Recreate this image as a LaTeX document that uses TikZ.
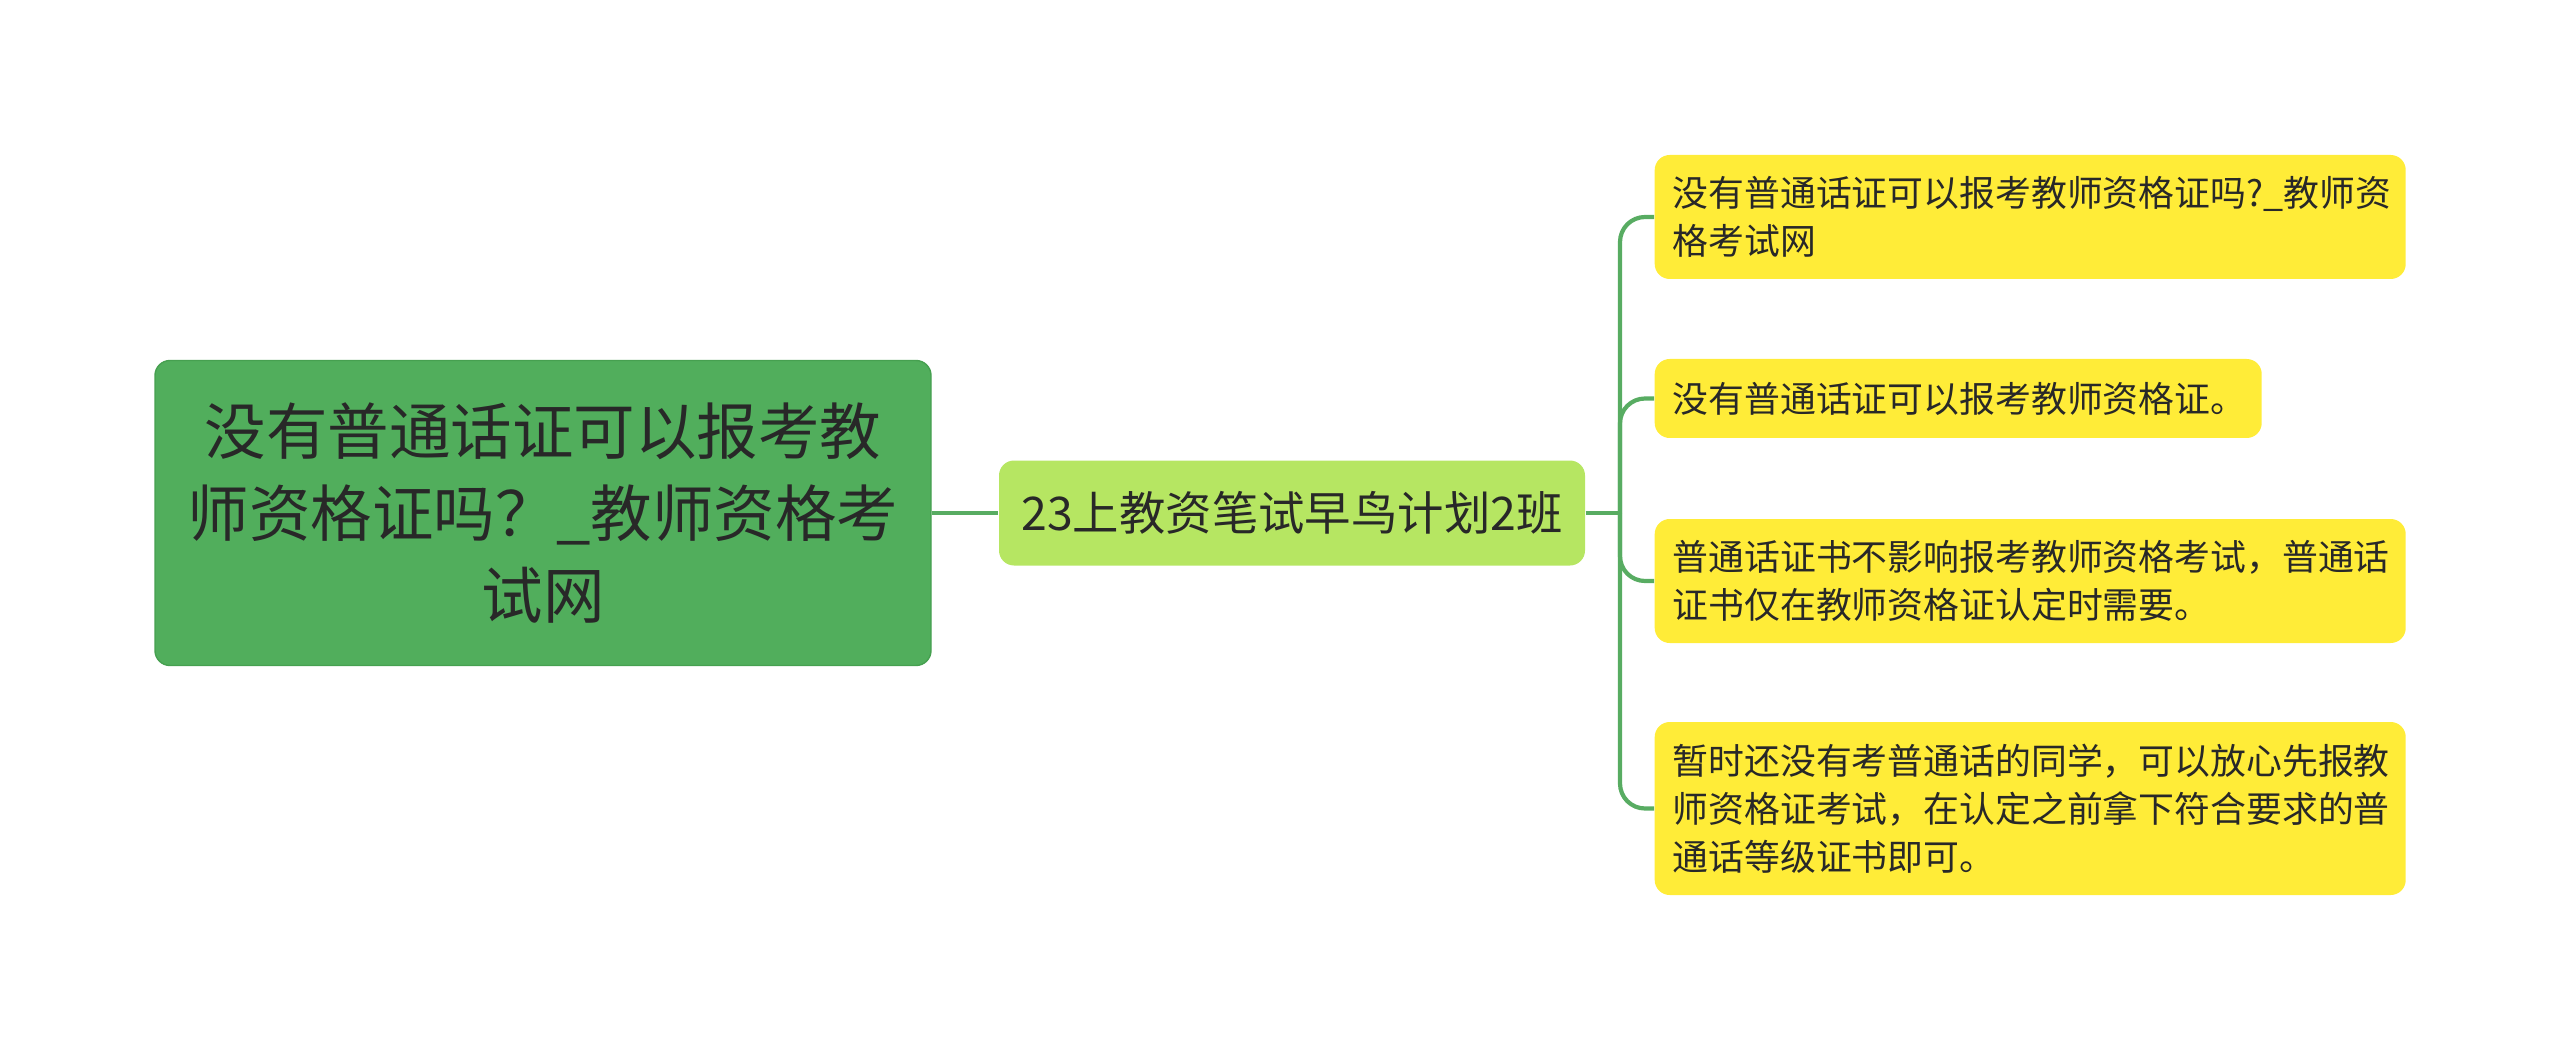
\documentclass[tikz,border=0pt]{standalone}
\usepackage{fontspec}
\usepackage{xcolor}
\usepackage{tikz}
\newfontfamily\cjk{Noto Sans CJK SC}
\definecolor{mauxanh}{RGB}{81,174,92}
\definecolor{vienxanh}{RGB}{70,160,80}
\definecolor{mauchanh}{RGB}{182,230,98}
\definecolor{mauvang}{RGB}{255,236,56}
\definecolor{mauday}{RGB}{88,172,98}
\definecolor{chu}{RGB}{40,40,40}

\begin{document}
\begin{tikzpicture}[
	goc/.style={draw=vienxanh, fill=mauxanh, rounded corners=0.15cm, minimum width=7.76cm, minimum height=3.05cm, align=center, text=chu, font=\cjk\fontsize{17.5}{23.3}\selectfont},
	nhanh/.style={fill=mauchanh, rounded corners=0.15cm, minimum width=5.86cm, minimum height=1.05cm, text=chu, font=\cjk\fontsize{13.2}{16}\selectfont},
	la/.style={fill=mauvang, rounded corners=0.15cm, anchor=west, inner xsep=0.18cm, align=left, text=chu, font=\cjk\fontsize{10.2}{13.7}\selectfont},
	noi/.style={draw=mauday, line width=1.2pt, rounded corners=0.25cm}]
			\useasboundingbox (0,0) rectangle (25.6,10.5);
			% Vẽ nút gốc và nhánh
			\node[goc] (goc) at (5.43,5.37) {没有普通话证可以报考教\\师资格证吗？\_教师资格考\\试网};
			\node[nhanh] (nhanh) at (12.92,5.37) {23上教资笔试早鸟计划2班};
			% Vẽ các lá
			\node[la, text width=7.15cm, minimum height=1.24cm] (la1) at (16.54,8.33) {没有普通话证可以报考教师资格证吗?\_教师资\\格考试网};
			\node[la, text width=5.71cm, minimum height=0.79cm] (la2) at (16.54,6.515) {没有普通话证可以报考教师资格证。};
			\node[la, text width=7.15cm, minimum height=1.24cm] (la3) at (16.54,4.69) {普通话证书不影响报考教师资格考试，普通话\\证书仅在教师资格证认定时需要。};
			\node[la, text width=7.15cm, minimum height=1.73cm] (la4) at (16.54,2.415) {暂时还没有考普通话的同学，可以放心先报教\\师资格证考试，在认定之前拿下符合要求的普\\通话等级证书即可。};
			% Vẽ đường nối
			\coordinate (re) at (16.2,5.37);
			\draw[noi] (goc.east) -- (nhanh.west);
			\draw[noi] (nhanh.east) -- (re);
			\foreach \i in {1,...,4}
				\draw[noi] (re) |- (la\i.west);
		\end{tikzpicture}
\end{document}
